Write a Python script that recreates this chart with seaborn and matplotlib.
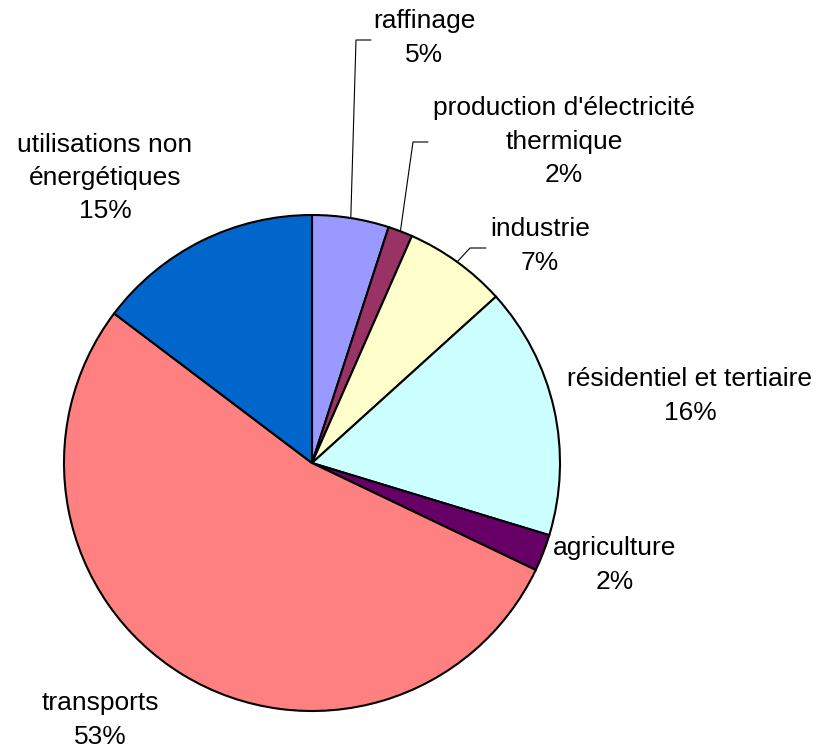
import numpy as np
import matplotlib.pyplot as plt
import seaborn as sns

# Data
categories = ["raffinage", "production d'électricité\nthermique", "industrie",
              "résidentiel et tertiaire", "agriculture", "transports",
              "utilisations non\nénergétiques"]
shares = [5.0, 1.6, 6.7, 16.4, 2.4, 53.2, 14.7]
colors = ["#9999FF", "#993366", "#FFFFCC", "#CCFFFF", "#660066", "#FF8080", "#0066CC"]

sns.set_style("white")
plt.rcParams['font.family'] = ['Liberation Sans', 'DejaVu Sans']

W, H = 818, 749
CX, CY, R = 312, 463, 248

fig = plt.figure(figsize=(W / 100, H / 100), dpi=100)
ax = fig.add_axes([0, 0, 1, 1])

wedges, _ = ax.pie(shares, colors=colors, startangle=90, counterclock=False,
                   radius=1, wedgeprops=dict(edgecolor="black", linewidth=1.5))

def px(x, y):
    return (x - CX) / R, (CY - y) / R

# label centres (pixels) and optional leader knee (pixels)
label_pos = [(424, 38), (564, 142), (540, 246), (690, 396), (615, 565),
             (100, 720), (105, 178)]
leaders = {0: [(371, 40), (356, 40)], 1: [(428, 142), (413, 142)],
           2: [(486, 248), (470, 248)]}

for i, (w, cat, v) in enumerate(zip(wedges, categories, shares)):
    tx, ty = px(*label_pos[i])
    ax.text(tx, ty, f"{cat}\n{v:.0f}%", ha="center", va="center",
            fontsize=19, linespacing=1.5, color="black")
    if i in leaders:
        mid = np.deg2rad((w.theta1 + w.theta2) / 2)
        pts = [px(*p) for p in leaders[i]] + [(np.cos(mid), np.sin(mid))]
        xs, ys = zip(*pts)
        ax.plot(xs, ys, color="black", linewidth=0.8)

ax.set_xlim(-CX / R, (W - CX) / R)
ax.set_ylim(-(H - CY) / R, CY / R)
ax.set_aspect("equal")
ax.axis("off")

fig.savefig("out.png", dpi=100, facecolor="white")
